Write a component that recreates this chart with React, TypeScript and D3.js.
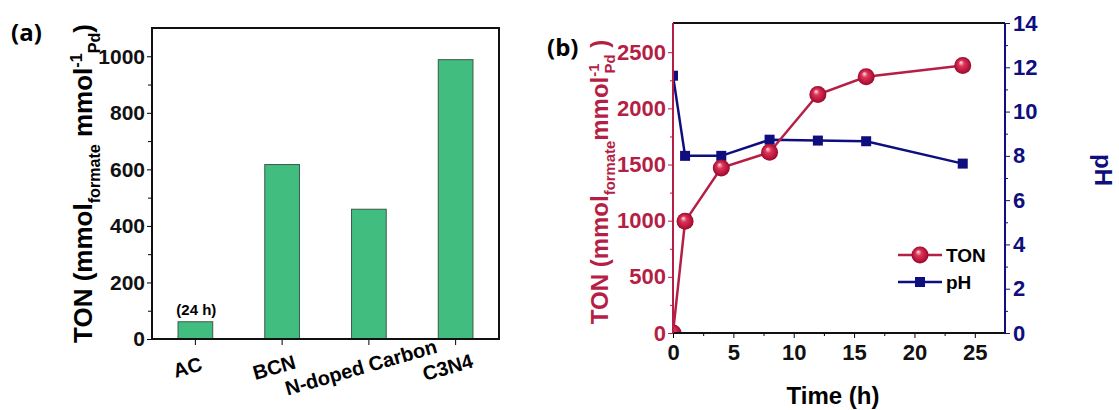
import React, { useRef, useEffect } from 'react';
import * as d3 from 'd3';

// panel (a): TON per support
const supports = ['AC', 'BCN', 'N-doped Carbon', 'C3N4'];
const supportTON = [61, 617, 459, 988];
const tonTicksA = [0, 200, 400, 600, 800, 1000];

// panel (b): time course
const hours = [0, 1, 4, 8, 12, 16, 24];
const tonSeries = [0, 994, 1470, 1609, 2123, 2281, 2381];
const phSeries = [11.62, 8.0, 8.0, 8.73, 8.69, 8.66, 7.65];
const timeTicks = [0, 5, 10, 15, 20, 25];
const tonTicksB = [0, 500, 1000, 1500, 2000, 2500];
const phTicks = [0, 2, 4, 6, 8, 10, 12, 14];

const FONT = 'Liberation Sans, Arial, sans-serif';
const CRIMSON = '#b51f45';
const NAVY = '#0e0e7e';
const GREEN = '#41bd80';
const plain = d3.format('d');

type Part = { t: string; kind?: 'sub' | 'sup'; dx?: number };

// text with sub/superscripts, baseline restored after each part
function richText(sel: any, parts: Part[], size: number) {
  let shift = 0;
  parts.forEach((p) => {
    const target = p.kind === 'sub' ? size * 0.3 : p.kind === 'sup' ? -size * 0.38 : 0;
    sel.append('tspan')
      .attr('dy', target - shift)
      .attr('dx', p.dx || 0)
      .attr('font-size', p.kind ? size * 0.62 : size)
      .text(p.t);
    shift = target;
  });
}

const App = () => {
  const svgRef = useRef<SVGSVGElement>(null);

  useEffect(() => {
    const svg = d3.select(svgRef.current);
    svg.selectAll('*').remove();
    svg.attr('font-family', FONT).attr('font-weight', 'bold');

    // ---------- panel (a) ----------
    const a = { l: 152, r: 499, t: 28, b: 339 };
    const xA = d3.scaleBand().domain(supports).range([a.l, a.r]).paddingInner(0.6).paddingOuter(0.3);
    const yA = d3.scaleLinear().domain([0, 1100]).range([a.b, a.t]);

    const gA = svg.append('g');
    gA.append('g')
      .attr('transform', `translate(${a.l},0)`)
      .call(d3.axisLeft(yA).tickValues(d3.range(100, 1100, 200)).tickSize(4).tickFormat(() => ''))
      .call((g) => g.select('.domain').remove());
    gA.append('g')
      .attr('transform', `translate(${a.l},0)`)
      .call(d3.axisLeft(yA).tickValues(tonTicksA).tickSize(5).tickPadding(2).tickFormat(plain))
      .call((g) => g.select('.domain').remove())
      .call((g) => g.selectAll('text').attr('font-size', 21).attr('font-family', FONT).attr('fill', '#111'));

    gA.append('g')
      .attr('transform', `translate(0,${a.b})`)
      .call(d3.axisBottom(xA).tickSize(6).tickFormat(() => ''))
      .call((g) => g.select('.domain').remove());

    gA.selectAll('.bar')
      .data(supports)
      .enter()
      .append('rect')
      .attr('x', (d) => xA(d)!)
      .attr('y', (d, i) => yA(supportTON[i]))
      .attr('width', xA.bandwidth())
      .attr('height', (d, i) => a.b - yA(supportTON[i]))
      .attr('fill', GREEN)
      .attr('stroke', '#3c5a48')
      .attr('stroke-width', 1);

    gA.append('rect')
      .attr('x', a.l).attr('y', a.t).attr('width', a.r - a.l).attr('height', a.b - a.t)
      .attr('fill', 'none').attr('stroke', '#111').attr('stroke-width', 2);

    gA.append('text')
      .attr('x', xA('AC')! + xA.bandwidth() / 2 + 1)
      .attr('y', yA(supportTON[0]) - 7)
      .attr('text-anchor', 'middle')
      .attr('font-size', 15)
      .text('(24 h)');

    supports.forEach((s) => {
      gA.append('text')
        .attr('transform', `translate(${xA(s)! + xA.bandwidth() / 2 - 6},${a.b + 35}) rotate(-16)`)
        .attr('text-anchor', 'middle')
        .attr('font-size', 20)
        .text(s);
    });

    const labA = gA.append('text')
      .attr('transform', `translate(92,${(a.t + a.b) / 2}) rotate(-90)`)
      .attr('text-anchor', 'middle');
    richText(labA, [
      { t: 'TON (mmol' }, { t: 'formate', kind: 'sub' }, { t: ' mmol' },
      { t: '-1', kind: 'sup' }, { t: 'Pd', kind: 'sub' }, { t: ')' },
    ], 26);

    svg.append('text').attr('x', 11).attr('y', 41)
      .attr('font-family', 'Open Sans, sans-serif').attr('font-weight', 700)
      .attr('font-size', 24).text('(a)');

    // ---------- panel (b) ----------
    const b = { l: 673, r: 1005, t: 23, b: 333 };
    const xB = d3.scaleLinear().domain([0, 27.5]).range([b.l, b.r]);
    const yT = d3.scaleLinear().domain([0, 2760]).range([b.b, b.t]);
    const yP = d3.scaleLinear().domain([0, 14]).range([b.b, b.t]);

    const gB = svg.append('g');

    // bottom axis
    gB.append('g')
      .attr('transform', `translate(0,${b.b})`)
      .call(d3.axisBottom(xB).tickValues(d3.range(2.5, 27.5, 5)).tickSize(3).tickFormat(() => ''))
      .call((g) => g.select('.domain').remove());
    gB.append('g')
      .attr('transform', `translate(0,${b.b})`)
      .call(d3.axisBottom(xB).tickValues(timeTicks).tickSize(5).tickPadding(6).tickFormat(plain))
      .call((g) => g.select('.domain').remove())
      .call((g) => g.selectAll('text').attr('font-size', 22).attr('font-family', FONT).attr('fill', '#111'));

    // left TON axis
    gB.append('g')
      .attr('transform', `translate(${b.l},0)`)
      .attr('color', CRIMSON)
      .call(d3.axisLeft(yT).tickValues(d3.range(250, 2750, 500)).tickSize(3).tickFormat(() => ''))
      .call((g) => g.select('.domain').remove());
    gB.append('g')
      .attr('transform', `translate(${b.l},0)`)
      .attr('color', CRIMSON)
      .call(d3.axisLeft(yT).tickValues(tonTicksB).tickSize(5).tickPadding(2).tickFormat(plain))
      .call((g) => g.select('.domain').remove())
      .call((g) => g.selectAll('text').attr('font-size', 22).attr('font-family', FONT));

    // right pH axis
    gB.append('g')
      .attr('transform', `translate(${b.r},0)`)
      .attr('color', NAVY)
      .call(d3.axisRight(yP).tickValues(d3.range(1, 14, 2)).tickSize(3).tickFormat(() => ''))
      .call((g) => g.select('.domain').remove());
    gB.append('g')
      .attr('transform', `translate(${b.r},0)`)
      .attr('color', NAVY)
      .call(d3.axisRight(yP).tickValues(phTicks).tickSize(5).tickPadding(3).tickFormat(plain))
      .call((g) => g.select('.domain').remove())
      .call((g) => g.selectAll('text').attr('font-size', 22).attr('font-family', FONT));

    // ball gradient + plot clip
    const defs = svg.append('defs');
    const grad = defs.append('radialGradient').attr('id', 'ball').attr('cx', '0.5').attr('cy', '0.5').attr('r', '0.5').attr('fx', '0.38').attr('fy', '0.3');
    grad.append('stop').attr('offset', '0%').attr('stop-color', '#ffe4ea');
    grad.append('stop').attr('offset', '35%').attr('stop-color', '#dc3558');
    grad.append('stop').attr('offset', '80%').attr('stop-color', '#b8133a');
    grad.append('stop').attr('offset', '100%').attr('stop-color', '#8c0d2b');
    defs.append('clipPath').attr('id', 'plotB')
      .append('rect').attr('x', b.l).attr('y', b.t).attr('width', b.r - b.l).attr('height', b.b - b.t);

    const tonLine = d3.line<number>().x((d, i) => xB(hours[i])).y((d) => yT(d));
    const phLine = d3.line<number>().x((d, i) => xB(hours[i])).y((d) => yP(d));

    const data = gB.append('g').attr('clip-path', 'url(#plotB)');
    data.append('path').attr('d', phLine(phSeries)).attr('fill', 'none').attr('stroke', NAVY).attr('stroke-width', 2.5);
    data.append('path').attr('d', tonLine(tonSeries)).attr('fill', 'none').attr('stroke', CRIMSON).attr('stroke-width', 2.5);

    data.selectAll('.ph').data(phSeries).enter().append('rect')
      .attr('x', (d, i) => xB(hours[i]) - 5).attr('y', (d) => yP(d) - 5)
      .attr('width', 10).attr('height', 10).attr('fill', NAVY);
    data.selectAll('.ton').data(tonSeries).enter().append('circle')
      .attr('cx', (d, i) => xB(hours[i])).attr('cy', (d) => yT(d))
      .attr('r', 8.5).attr('fill', 'url(#ball)');

    // frame
    gB.append('line').attr('x1', b.l).attr('x2', b.r).attr('y1', b.t).attr('y2', b.t).attr('stroke', '#111').attr('stroke-width', 2);
    gB.append('line').attr('x1', b.l).attr('x2', b.r).attr('y1', b.b).attr('y2', b.b).attr('stroke', '#111').attr('stroke-width', 2);
    gB.append('line').attr('x1', b.l).attr('x2', b.l).attr('y1', b.t).attr('y2', b.b).attr('stroke', CRIMSON).attr('stroke-width', 2);
    gB.append('line').attr('x1', b.r).attr('x2', b.r).attr('y1', b.t).attr('y2', b.b).attr('stroke', NAVY).attr('stroke-width', 2);

    // legend
    const lg = gB.append('g').attr('transform', 'translate(898,255)');
    lg.append('line').attr('x1', 0).attr('x2', 44).attr('stroke', CRIMSON).attr('stroke-width', 2.5);
    lg.append('circle').attr('cx', 22).attr('r', 8.5).attr('fill', 'url(#ball)');
    lg.append('text').attr('x', 48).attr('y', 7).attr('font-size', 19).text('TON');
    lg.append('line').attr('x1', 0).attr('x2', 44).attr('y1', 27).attr('y2', 27).attr('stroke', NAVY).attr('stroke-width', 2.5);
    lg.append('rect').attr('x', 17).attr('y', 22).attr('width', 10).attr('height', 10).attr('fill', NAVY);
    lg.append('text').attr('x', 48).attr('y', 34).attr('font-size', 19).text('pH');

    // axis titles
    gB.append('text').attr('x', (b.l + b.r) / 2 - 6).attr('y', 404)
      .attr('text-anchor', 'middle').attr('font-size', 24).text('Time (h)');

    const labB = gB.append('text')
      .attr('transform', `translate(608,${(b.t + b.b) / 2 + 4}) rotate(-90)`)
      .attr('text-anchor', 'middle').attr('fill', CRIMSON);
    richText(labB, [
      { t: 'TON (mmol' }, { t: 'formate', kind: 'sub' }, { t: 'mmol' },
      { t: '-1', kind: 'sup' }, { t: 'Pd', kind: 'sub', dx: -10 }, { t: ' )' },
    ], 24);

    gB.append('text')
      .attr('transform', `translate(1095,${(b.t + b.b) / 2 - 8}) rotate(90)`)
      .attr('text-anchor', 'middle').attr('fill', NAVY).attr('font-size', 24).text('pH');

    svg.append('text').attr('x', 547).attr('y', 56)
      .attr('font-family', 'Open Sans, sans-serif').attr('font-weight', 700)
      .attr('font-size', 24).text('(b)');
  }, []);

  return (
    <svg ref={svgRef} width={1119} height={410}
      style={{ position: 'absolute', left: 0, top: 0, background: '#fff' }} />
  );
};

export default App;
